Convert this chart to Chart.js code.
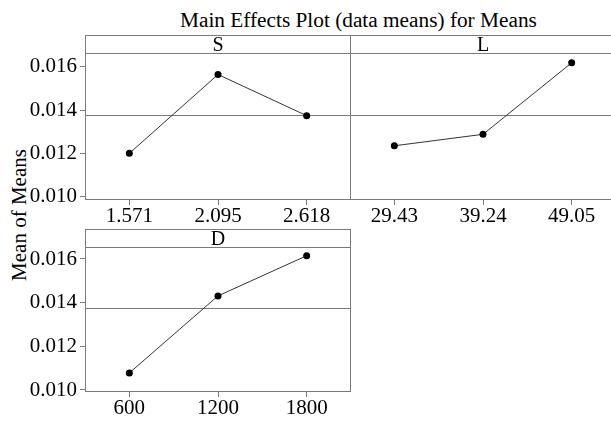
<!DOCTYPE html>
<html>
<head>
<meta charset="utf-8">
<script src="https://cdn.jsdelivr.net/npm/chart.js@4.4.1/dist/chart.umd.min.js"></script>
<style>
    html, body { margin: 0; padding: 0; background: #fff; }
    body { position: relative; width: 611px; height: 424px; overflow: hidden; font-family: "Liberation Serif", "DejaVu Serif", serif; color: #000; }
    canvas { position: absolute; }
    #title { position: absolute; left: 180px; top: 8px; font-size: 21.3px; line-height: 24px; white-space: nowrap; }
    #ylabel { position: absolute; left: -81px; top: 203px; width: 200px; height: 24px; line-height: 24px; font-size: 21px; text-align: center; transform: rotate(-90deg); white-space: nowrap; }
</style>
</head>
<body>
<div id="title">Main Effects Plot (data means) for Means</div>
<div id="ylabel">Mean of Means</div>
<canvas id="chartS" width="351" height="195" style="left:0px; top:35px;"></canvas>
<canvas id="chartL" width="266" height="195" style="left:350px; top:35px;"></canvas>
<canvas id="chartD" width="351" height="193" style="left:0px; top:229px;"></canvas>

<script>
// factor levels and the mean response at each level
const S_LEVELS = ['1.571', '2.095', '2.618'];
const S_MEANS = [0.01200, 0.01564, 0.01374];

const L_LEVELS = ['29.43', '39.24', '49.05'];
const L_MEANS = [0.01235, 0.01288, 0.01618];

const D_LEVELS = ['600', '1200', '1800'];
const D_MEANS = [0.01078, 0.01431, 0.01615];

const GRAND_MEAN = 0.01377;
const Y_TICKS = [0.010, 0.012, 0.014, 0.016];

const FRAME_COLOR = '#7a7a7a';
const TICK_FONT = { family: '"Liberation Serif", serif', size: 21, lineHeight: 1 };

// draws the panel box, header strip, its label and the grand mean line
const panelFrame = {
    id: 'panelFrame',
    beforeDatasetsDraw(chart, args, opts) {
        const { ctx, chartArea: a, scales } = chart;
        const yRef = Math.round(scales.y.getPixelForValue(GRAND_MEAN)) + 0.5;
        const yStrip = a.top + 18.5;
        ctx.save();
        ctx.strokeStyle = FRAME_COLOR;
        ctx.lineWidth = 1;
        ctx.strokeRect(a.left + 0.5, a.top + 0.5, a.right - a.left - 1, a.bottom - a.top - 1);
        ctx.beginPath();
        ctx.moveTo(a.left, yStrip);
        ctx.lineTo(a.right, yStrip);
        ctx.moveTo(a.left, yRef);
        ctx.lineTo(a.right, yRef);
        ctx.stroke();
        ctx.fillStyle = '#000';
        ctx.font = '20px "Liberation Serif", serif';
        ctx.textAlign = 'center';
        ctx.textBaseline = 'alphabetic';
        const cx = (scales.x.getPixelForValue(0) + scales.x.getPixelForValue(2)) / 2;
        ctx.fillText(opts.label, cx, yStrip - 2.5);
        ctx.restore();
    }
};

function makePanel(id, label, levels, means, yMin, yMax, showY) {
    const ctx = document.getElementById(id).getContext('2d');
    return new Chart(ctx, {
        type: 'line',
        data: {
            labels: levels,
            datasets: [{
                data: means,
                borderColor: '#333',
                borderWidth: 1,
                backgroundColor: '#000',
                pointBackgroundColor: '#000',
                pointBorderColor: '#000',
                pointRadius: 3.5,
                pointBorderWidth: 0,
                tension: 0
            }]
        },
        options: {
            responsive: false,
            animation: false,
            devicePixelRatio: 1,
            layout: { padding: 0, autoPadding: false },
            plugins: {
                legend: { display: false },
                tooltip: { enabled: false },
                panelFrame: { label: label }
            },
            scales: {
                x: {
                    type: 'category',
                    offset: true,
                    border: { display: false },
                    grid: { drawOnChartArea: false, offset: false, tickLength: 5, color: FRAME_COLOR },
                    ticks: { font: TICK_FONT, color: '#000', padding: 1, maxRotation: 0, autoSkip: false },
                    afterFit: s => { s.height = 30; s.paddingLeft = 0; s.paddingRight = 0; }
                },
                y: {
                    display: showY,
                    min: yMin,
                    max: yMax,
                    border: { display: false },
                    grid: { drawOnChartArea: false, tickLength: 5, color: FRAME_COLOR },
                    ticks: { font: TICK_FONT, color: '#000', padding: 3, callback: v => v.toFixed(3) },
                    afterBuildTicks: s => { s.ticks = Y_TICKS.map(v => ({ value: v })); },
                    afterFit: s => { s.width = showY ? 85 : 0; s.paddingTop = 0; s.paddingBottom = 0; }
                }
            }
        },
        plugins: [panelFrame]
    });
}

makePanel('chartS', 'S', S_LEVELS, S_MEANS, 0.009848, 0.017463, true);
makePanel('chartL', 'L', L_LEVELS, L_MEANS, 0.009848, 0.017463, false);
makePanel('chartD', 'D', D_LEVELS, D_MEANS, 0.009908, 0.017374, true);
</script>
</body>
</html>
